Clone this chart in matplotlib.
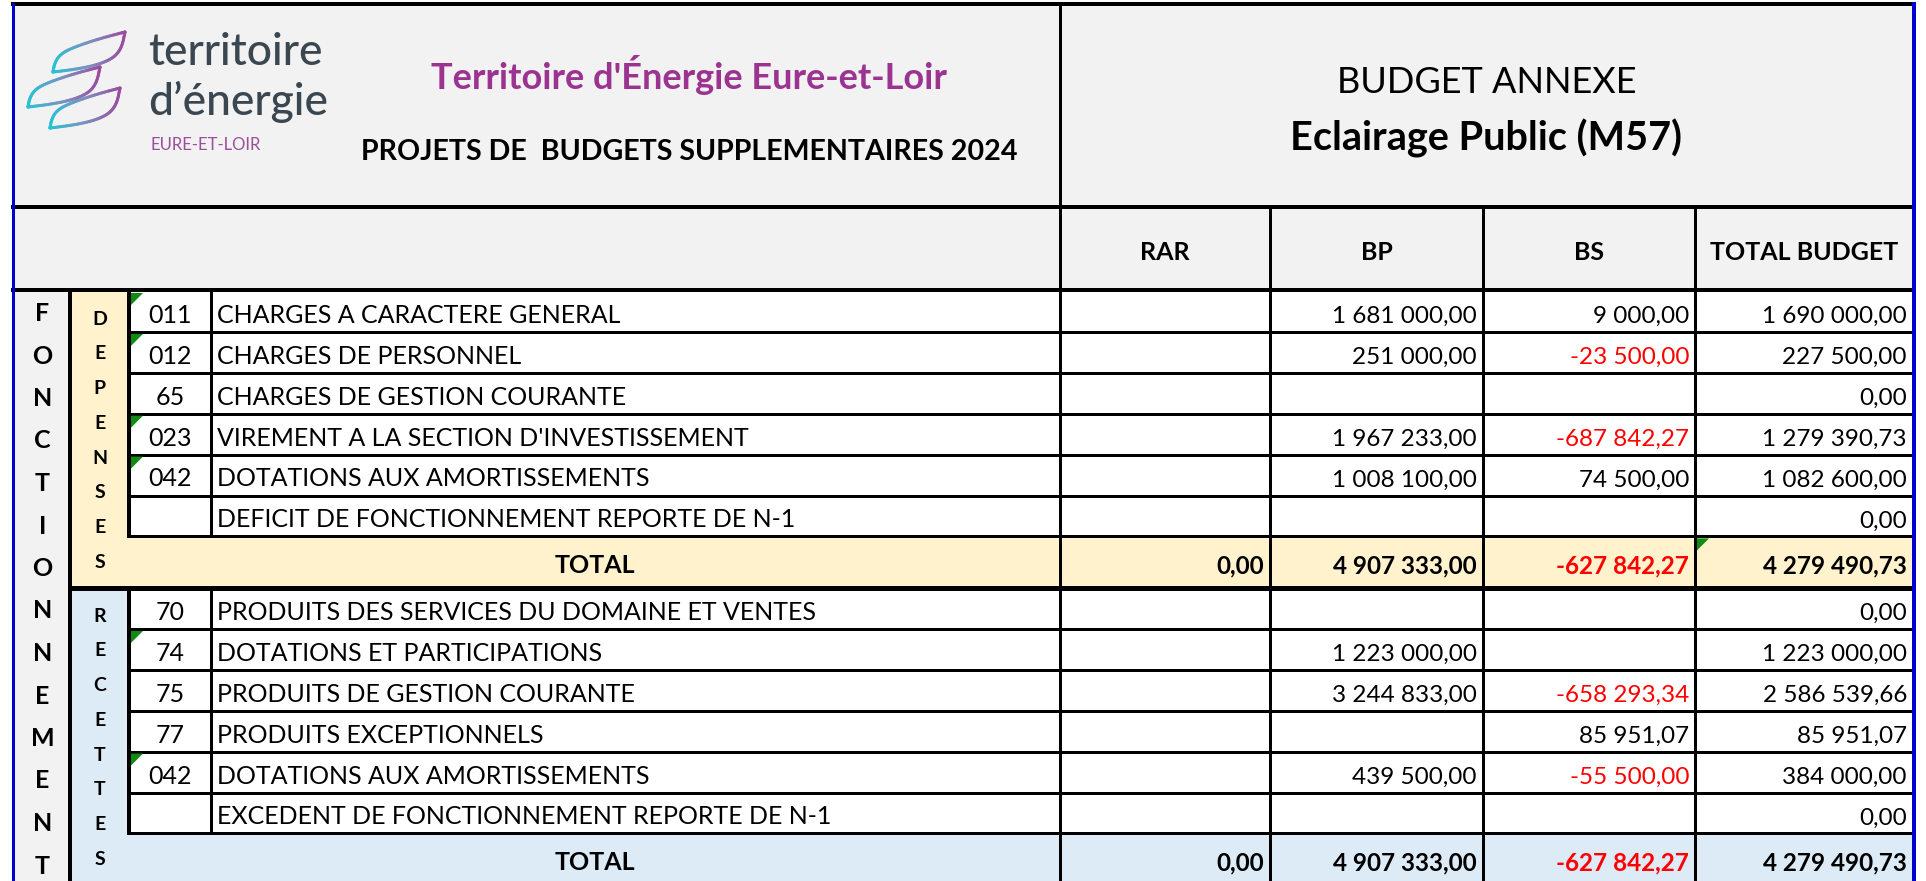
import numpy as np
import matplotlib
matplotlib.use('Agg')
import matplotlib.pyplot as plt
from matplotlib.patches import Rectangle, Polygon
from matplotlib.collections import LineCollection
from matplotlib.colors import LinearSegmentedColormap

# ---- data read from the sheet ----
col_titles = ['RAR', 'BP', 'BS', 'TOTAL BUDGET']

dep_codes = ['011', '012', '65', '023', '042', '']
dep_labels = ['CHARGES A CARACTERE GENERAL',
              'CHARGES DE PERSONNEL',
              'CHARGES DE GESTION COURANTE',
              "VIREMENT A LA SECTION D'INVESTISSEMENT",
              'DOTATIONS AUX AMORTISSEMENTS',
              'DEFICIT DE FONCTIONNEMENT REPORTE DE N-1']
dep_flags = [True, True, False, True, True, False]
dep_rar = [None, None, None, None, None, None]
dep_bp = [1681000.00, 251000.00, None, 1967233.00, 1008100.00, None]
dep_bs = [9000.00, -23500.00, None, -687842.27, 74500.00, None]
dep_tot = [1690000.00, 227500.00, 0.00, 1279390.73, 1082600.00, 0.00]
dep_sum = [0.00, 4907333.00, -627842.27, 4279490.73]

rec_codes = ['70', '74', '75', '77', '042', '']
rec_labels = ['PRODUITS DES SERVICES DU DOMAINE ET VENTES',
              'DOTATIONS ET PARTICIPATIONS',
              'PRODUITS DE GESTION COURANTE',
              'PRODUITS EXCEPTIONNELS',
              'DOTATIONS AUX AMORTISSEMENTS',
              'EXCEDENT DE FONCTIONNEMENT REPORTE DE N-1']
rec_flags = [False, True, False, False, True, False]
rec_rar = [None, None, None, None, None, None]
rec_bp = [None, 1223000.00, 3244833.00, None, 439500.00, None]
rec_bs = [None, None, -658293.34, 85951.07, -55500.00, None]
rec_tot = [0.00, 1223000.00, 2586539.66, 85951.07, 384000.00, 0.00]
rec_sum = [0.00, 4907333.00, -627842.27, 4279490.73]

# ---- layout (pixels) ----
W, H = 1926, 881
XL, XR = 13, 1913
XD, XC, XLB = 70, 129, 211
COLX = [1060, 1270, 1483, 1695, 1913]
Y_TOP, Y_HEAD, Y_COLS = 4, 207, 290
ROW_H = 40.9
TOT_H = 51

GRAY = '#f2f2f2'
CREAM = '#fff2cc'
BLUE = '#ddebf7'
RED = '#ff0000'
PURPLE = '#9c3391'
FONT = 'Lato'
FS_TXT = 18
FS_NUM = 17.5

PT = 0.72  # px -> pt at dpi 100

# leaf outline of the logo, in units of the leaf box (u to the right, v upwards)
LEAF_UP = [(0, 0), (0.02, 0.2), (0.08, 0.4), (0.2, 0.55), (0.45, 0.72), (0.72, 0.87), (1, 1)]
LEAF_LO = [(0, 0), (0.28, 0.06), (0.55, 0.15), (0.75, 0.27), (0.88, 0.42), (0.96, 0.65), (1, 1)]


def fr(v):
    s = f"{abs(v):,.2f}".replace(',', ' ').replace('.', ',')
    return ('-' if v < 0 else '') + s


def hline(ax, y, x0, x1, w=3):
    ax.plot([x0, x1], [y, y], color='black', lw=w * PT, solid_capstyle='projecting', zorder=3)


def vline(ax, x, y0, y1, w=3):
    ax.plot([x, x], [y0, y1], color='black', lw=w * PT, solid_capstyle='projecting', zorder=3)


def flag(ax, x, y):
    ax.add_patch(Polygon([(x, y), (x + 12, y), (x, y + 12)], closed=True,
                         facecolor='#138a13', edgecolor='none', zorder=4))


def section(ax, y0, codes, labels, flags, rar, bp, bs, tot, sums, word, fill):
    n = len(codes)
    y_end = y0 + n * ROW_H
    ax.add_patch(Rectangle((XD, y0), XC - XD, y_end - y0, facecolor=fill, edgecolor='none'))
    ax.add_patch(Rectangle((XD, y_end), XR - XD, TOT_H, facecolor=fill, edgecolor='none'))
    for i in range(n):
        top = y0 + i * ROW_H
        bot = top + ROW_H
        base = bot - 9
        if i > 0:
            hline(ax, top, XC, XR)
        if flags[i]:
            flag(ax, XC + 2, top + 2)
        ax.text((XC + XLB) / 2, base, codes[i], ha='center', va='baseline',
                fontsize=FS_TXT, family=FONT)
        ax.text(XLB + 6, base, labels[i], ha='left', va='baseline',
                fontsize=FS_TXT, family=FONT)
        for j, vals in enumerate([rar, bp, bs, tot]):
            v = vals[i]
            if v is None:
                continue
            ax.text(COLX[j + 1] - 6, base, fr(v), ha='right', va='baseline',
                    fontsize=FS_NUM, family=FONT, color=RED if v < 0 else 'black')
    hline(ax, y_end, XC, XR)
    vline(ax, XC, y0, y_end, 4)
    vline(ax, XLB, y0, y_end, 3)
    # total row
    base = y_end + TOT_H - 14
    ax.text((XC + COLX[0]) / 2, base, 'TOTAL', ha='center', va='baseline',
            fontsize=FS_TXT, family=FONT, fontweight='bold')
    for j, v in enumerate(sums):
        ax.text(COLX[j + 1] - 6, base, fr(v), ha='right', va='baseline', fontsize=FS_NUM,
                family=FONT, fontweight='bold', color=RED if v < 0 else 'black')
    # vertical word
    step = 34.7
    mid = (y0 + y_end + TOT_H) / 2
    for k, ch in enumerate(word):
        yy = mid + (k - (len(word) - 1) / 2) * step
        ax.text((XD + XC) / 2, yy + 7, ch, ha='center', va='baseline',
                fontsize=14, family=FONT, fontweight='bold')
    return y_end + TOT_H


def chaikin(pts, n=3):
    pts = np.asarray(pts, float)
    for _ in range(n):
        q = 0.75 * pts[:-1] + 0.25 * pts[1:]
        r = 0.25 * pts[:-1] + 0.75 * pts[1:]
        mid = np.empty((2 * len(q), 2))
        mid[0::2] = q
        mid[1::2] = r
        pts = np.vstack([pts[:1], mid, pts[-1:]])
    return pts


def leaf(ax, p0, p1, cmap):
    dx = p1[0] - p0[0]
    dy = p0[1] - p1[1]
    for shape in (LEAF_UP, LEAF_LO):
        uv = chaikin(shape)
        pts = np.column_stack([p0[0] + uv[:, 0] * dx, p0[1] - uv[:, 1] * dy])
        segs = np.stack([pts[:-1], pts[1:]], axis=1)
        lc = LineCollection(segs, colors=cmap(uv[:-1, 0]), linewidths=3 * PT,
                            capstyle='round', zorder=5)
        ax.add_collection(lc)


fig = plt.figure(figsize=(W / 100, H / 100), dpi=100)
ax = fig.add_axes([0, 0, 1, 1])
ax.set_xlim(0, W)
ax.set_ylim(H, 0)
ax.axis('off')

# backgrounds
ax.add_patch(Rectangle((XL, Y_TOP), XR - XL, Y_COLS - Y_TOP, facecolor=GRAY, edgecolor='none'))
ax.add_patch(Rectangle((XL, Y_COLS), XD - XL, H - Y_COLS, facecolor=GRAY, edgecolor='none'))

# header texts
ax.text(689, 89, "Territoire d'Énergie Eure-et-Loir", ha='center', va='baseline',
        fontsize=26, family=FONT, fontweight='bold', color=PURPLE)
ax.text(689, 160, 'PROJETS DE  BUDGETS SUPPLEMENTAIRES 2024', ha='center', va='baseline',
        fontsize=20.6, family=FONT, fontweight='bold')
ax.text((COLX[0] + XR) / 2, 93, 'BUDGET ANNEXE', ha='center', va='baseline',
        fontsize=26, family=FONT)
ax.text((COLX[0] + XR) / 2, 150, 'Eclairage Public (M57)', ha='center', va='baseline',
        fontsize=28.5, family=FONT, fontweight='bold')

# logo
cmap = LinearSegmentedColormap.from_list('logo', ['#27c3d6', '#7f8fc0', '#9b4c9f'])
for p0, p1 in [((53, 72), (125, 32)), ((28, 107), (100, 67)), ((50, 128), (120, 88))]:
    leaf(ax, p0, p1, cmap)
ax.text(148, 65, 'territoire', ha='left', va='baseline', fontsize=32, family=FONT,
        fontweight='medium', color='#3a4650')
ax.text(148, 115, 'd\u2019énergie', ha='left', va='baseline', fontsize=32, family=FONT,
        fontweight='medium', color='#3a4650')
ax.text(150, 150, 'EURE-ET-LOIR', ha='left', va='baseline', fontsize=12, family=FONT,
        color='#9b4d9e')

# column headers
for j, t in enumerate(col_titles):
    ax.text((COLX[j] + COLX[j + 1]) / 2, 260, t, ha='center', va='baseline',
            fontsize=FS_TXT, family=FONT, fontweight='bold')

y_mid = section(ax, 291, dep_codes, dep_labels, dep_flags, dep_rar, dep_bp, dep_bs,
                dep_tot, dep_sum, 'DEPENSES', CREAM)
flag(ax, COLX[3] + 2, 291 + 6 * ROW_H + 2)
y_end = section(ax, 588, rec_codes, rec_labels, rec_flags, rec_rar, rec_bp, rec_bs,
                rec_tot, rec_sum, 'RECETTES', BLUE)

# vertical FONCTIONNEMENT
word = 'FONCTIONNEMENT'
for k, ch in enumerate(word):
    ax.text((XL + XD) / 2 + 1, 312 + k * 42.5 + 9, ch, ha='center', va='baseline',
            fontsize=18, family=FONT, fontweight='bold')

# grid lines
hline(ax, Y_TOP, XL, XR, 4)
hline(ax, Y_HEAD, XL, XR, 4)
hline(ax, Y_COLS, XL, XR, 4)
hline(ax, 588, XD, XR, 5)
vline(ax, COLX[0], Y_TOP, H, 3)
for x in COLX[1:4]:
    vline(ax, x, Y_HEAD, H, 3)
vline(ax, XD, Y_COLS, H, 4)
vline(ax, XL, Y_TOP, H, 3)
ax.plot([XL, XL], [Y_TOP, H], color='#0000d0', lw=3 * PT, zorder=6)
ax.plot([XR + 1, XR + 1], [Y_TOP, H], color='#0000d0', lw=4 * PT, zorder=6)

fig.savefig('out.png', dpi=100)
